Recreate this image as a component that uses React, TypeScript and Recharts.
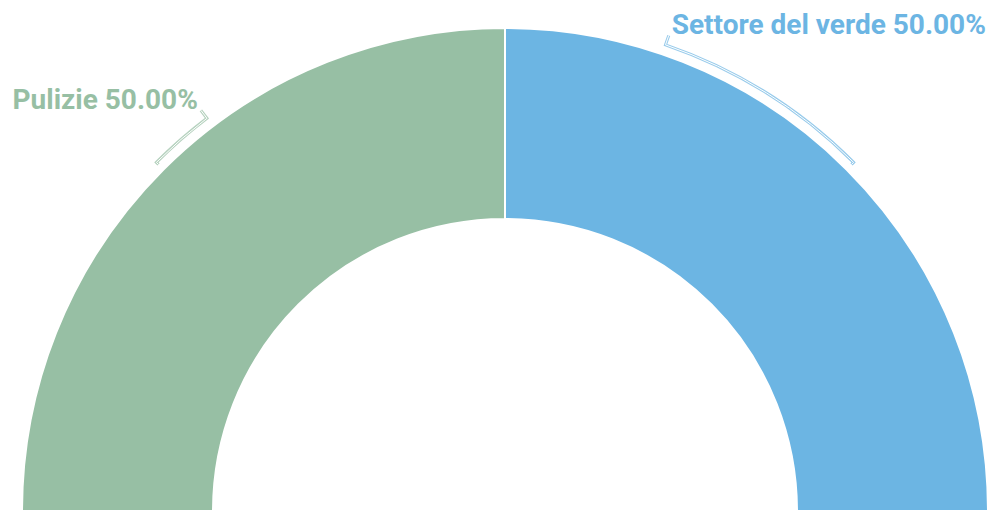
import React from 'react';
import { PieChart, Pie, Cell } from 'recharts';

const categories = ['Pulizie', 'Settore del verde'];
const values = [50, 50];
const colors = ['#97bfa4', '#6cb5e3'];

// span of the bracket in degrees, measured from the slice mid angle toward the top
const bracketSpan = [-7.8, 26];

const data = categories.map((name, i) => ({ name, value: values[i] }));
const RADIAN = Math.PI / 180;

const renderLabel = (props: any) => {
  const { cx, cy, midAngle, outerRadius, percent, index, name } = props;
  const color = colors[index];
  const r = outerRadius + 10;
  const a1 = midAngle;
  const a2 = midAngle + bracketSpan[index];
  const pt = (ang: number, rad: number) => [cx + rad * Math.cos(ang * RADIAN), cy - rad * Math.sin(ang * RADIAN)];
  const [x0, y0] = pt(a1, r - 3);
  const [x1, y1] = pt(a1, r);
  const [x2, y2] = pt(a2, r);
  const [x3, y3] = pt(a2, r + 10);
  const sweep = a2 > a1 ? 0 : 1;
  const d = `M${x0},${y0} L${x1},${y1} A${r},${r} 0 0 ${sweep} ${x2},${y2} L${x3},${y3}`;
  const right = x3 > cx;
  return (
    <g>
      <path d={d} fill="none" stroke={color} strokeWidth={3} strokeOpacity={0.7} />
      <path d={d} fill="none" stroke="#fff" strokeWidth={1} />
      <text
        x={right ? x3 + 3 : x3 - 3}
        y={y3 - 1}
        textAnchor={right ? 'start' : 'end'}
        fill={color}
        fontSize={28}
        fontWeight={700}
        fontFamily="Roboto, sans-serif"
      >
        {`${name} ${(percent * 100).toFixed(2)}%`}
      </text>
    </g>
  );
};

export default function App() {
  return (
    <div style={{ position: 'fixed', left: 0, top: 0, width: 992, height: 510, background: '#fff' }}>
      <PieChart width={992} height={510} margin={{ top: 0, right: 0, bottom: 0, left: 0 }}>
        <Pie
          data={data}
          dataKey="value"
          nameKey="name"
          cx={505}
          cy={511}
          startAngle={180}
          endAngle={0}
          innerRadius={292}
          outerRadius={483}
          stroke="#fff"
          strokeWidth={2}
          label={renderLabel}
          labelLine={false}
          isAnimationActive={false}
        >
          {data.map((d, i) => (
            <Cell key={d.name} fill={colors[i]} />
          ))}
        </Pie>
      </PieChart>
    </div>
  );
}
